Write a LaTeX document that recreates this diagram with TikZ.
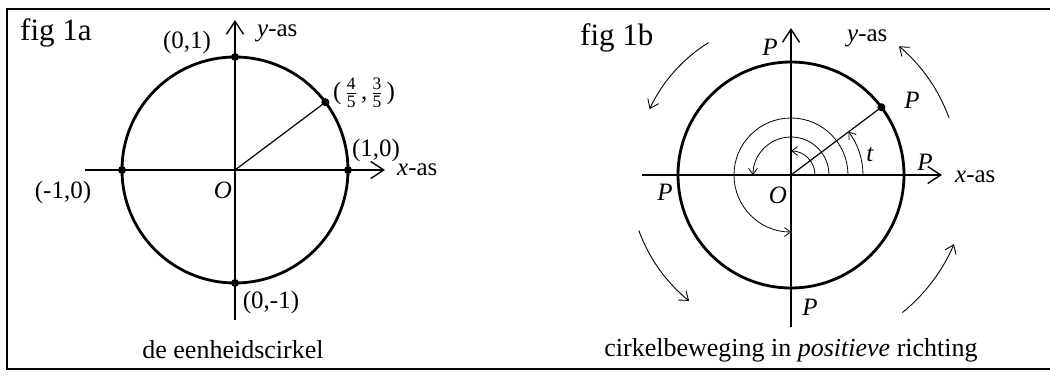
\documentclass[tikz,border=0pt]{standalone}
\usepackage{fontspec,amsmath}
\setmainfont{Liberation Serif}
\usetikzlibrary{arrows.meta}

\begin{document}
\begin{tikzpicture}[x=1pt,y=-1pt,
  lbl/.style={inner sep=0pt,font=\fontsize{25}{30}\selectfont},
  titel/.style={anchor=base west,inner sep=0pt,font=\fontsize{31}{37}\selectfont},
  onder/.style={inner sep=0pt,font=\fontsize{26}{31}\selectfont},
  as/.style={line width=1.4pt,-{Straight Barb[length=13pt,width=17pt,line width=1.4pt]}},
  cirkel/.style={line width=2.8pt},
  straal/.style={line width=1.2pt},
  stip/.style={fill,circle,inner sep=0pt,minimum size=8pt},
  boog/.style={line width=0.8pt,-{Straight Barb[length=6pt,width=9pt]}},
  draai/.style={line width=0.9pt,-{Straight Barb[length=8pt,width=12pt]}}]
\path[use as bounding box] (0,0) rectangle (1050,377);
% kader
\draw[line width=1.6pt] (1050,9) -- (7,9) -- (7,369) -- (1050,369);

% fig 1a: de eenheidscirkel
\coordinate (O1) at (235,170);
\draw[as] (85,170) -- (385,170);
\draw[as] (235,320) -- (235,20);
\draw[cirkel] (O1) circle[radius=113];
\node[stip] (A1) at (348,170) {};
\node[stip] (A2) at (235,57) {};
\node[stip] (A3) at (122,170) {};
\node[stip] (A4) at (235,283) {};
\node[stip] (P1) at (325.4,102.2) {};
\draw[straal] (O1) -- (P1.center);
\node[titel] (fig1a) at (20,41) {fig 1a};
\node[lbl] (l01) at (187,42) {(0,1)};
\node[lbl,anchor=west] (yas1) at (257,33) {\textit{y}-as};
\node[lbl,anchor=west] (l45) at (333,93) {(\,$\tfrac{\text{4}}{\text{5}}$\,,\,$\tfrac{\text{3}}{\text{5}}$\,)};
\node[lbl] (l10) at (376,150) {(1,0)};
\node[lbl,anchor=west] (xas1) at (397,170) {\textit{x}-as};
\node[lbl] (lm10) at (63,192) {(-1,0)};
\node[lbl] (oo1) at (223,190) {\textit{O}};
\node[lbl] (l0m1) at (271,302) {(0,-1)};
\node[onder] (cap1) at (233,350) {de eenheidscirkel};

% fig 1b: cirkelbeweging
\coordinate (O2) at (791,175);
\draw[as] (642,175) -- (942,175);
\draw[as] (791,327) -- (791,28);
\draw[cirkel] (O2) circle[radius=113];
\node[stip] (P2) at (881.4,107.2) {};
\draw[straal] (O2) -- (P2.center);
\begin{scope}[shift={(O2)},yscale=-1]
  \draw[boog] (24,0) arc[start angle=0,end angle=90,radius=24];
  \draw[boog] (38,0) arc[start angle=0,end angle=180,radius=38];
  \draw[boog] (57,0) arc[start angle=0,end angle=270,radius=57];
  \draw[boog] (72,0) arc[start angle=0,end angle=36.87,radius=72];
  % draairichting
  \draw[draai] (122:156) arc[start angle=122,end angle=155,radius=156];
  \draw[draai] (200:162) arc[start angle=200,end angle=231,radius=162];
  \draw[draai] (309:177) arc[start angle=309,end angle=337,radius=177];
  \draw[draai] (20:168) arc[start angle=20,end angle=50,radius=168];
\end{scope}
\node[titel] (fig1b) at (580,46) {fig 1b};
\node[lbl] (pb1) at (770,47) {\textit{P}};
\node[lbl,anchor=west] (yas2) at (847,38) {\textit{y}-as};
\node[lbl] (pb2) at (912,100) {\textit{P}};
\node[lbl] (tt) at (870,155) {\textit{t}};
\node[lbl] (pb3) at (925,162) {\textit{P}};
\node[lbl,anchor=west] (xas2) at (955,177) {\textit{x}-as};
\node[lbl] (pb4) at (665,192) {\textit{P}};
\node[lbl] (oo2) at (778,195) {\textit{O}};
\node[lbl] (pb5) at (810,307) {\textit{P}};
\node[onder] (cap2) at (791,350) {cirkelbeweging in \textit{positieve} richting};
\end{tikzpicture}
\end{document}
